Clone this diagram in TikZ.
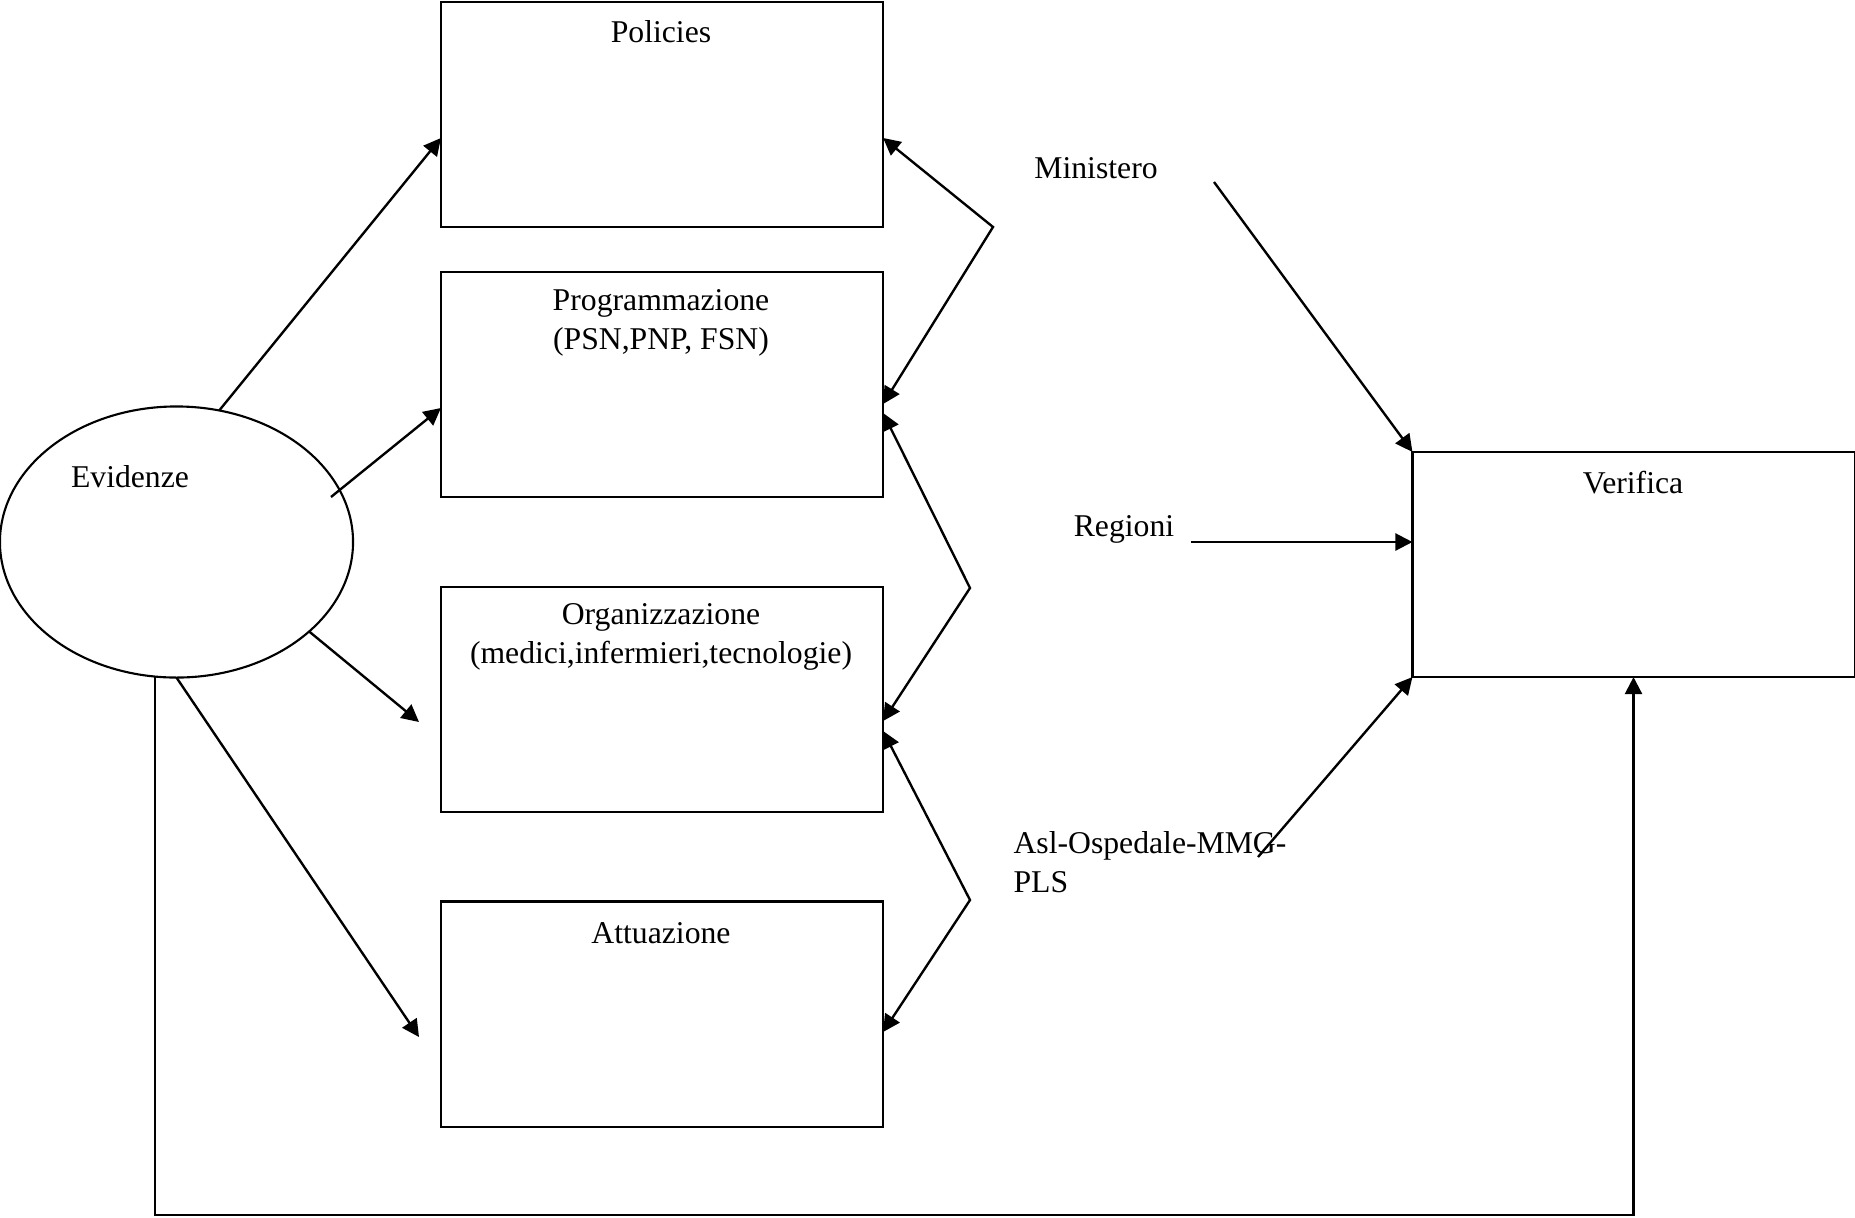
\documentclass[tikz,border=0pt]{standalone}
\usepackage{fontspec}
\setmainfont{Liberation Serif}
\usetikzlibrary{arrows.meta,shapes.geometric}
\tikzstyle{box} = [draw, line width=0.8pt, minimum width=5.883cm, minimum height=2.995cm, inner sep=0pt, outer sep=0pt]
\tikzstyle{lbl} = [inner sep=0pt, align=center]
\tikzstyle{b} = [draw, line width=0.9pt, black, -{Triangle[length=6.5pt,width=6.5pt]}]
\tikzstyle{bb} = [b, {Triangle[length=6.5pt,width=6.5pt]}-{Triangle[length=6.5pt,width=6.5pt]}]

\begin{document}
\begin{tikzpicture}[x=0.01331cm, y=-0.01331cm, font=\fontsize{12}{15}\selectfont]
  \useasboundingbox (0,0) rectangle (1855,1217);

  % Nodes
  \node[box] (pol)  at (662,114.5)   {};
  \node[box] (prog) at (662,384.5)   {};
  \node[box] (org)  at (662,699.5)   {};
  \node[box] (att)  at (662,1014)    {};
  \node[box] (ver)  at (1633.5,564.5) {};
  \node[draw, ellipse, line width=0.8pt, minimum width=4.698cm, minimum height=3.607cm, inner sep=0pt, outer sep=0pt] (ev) at (176.5,542) {};

  \node[lbl] (polt)  at (661,32)   {Policies};
  \node[lbl] (progt) at (661,323)  {Programmazione\\(PSN,PNP, FSN)};
  \node[lbl] (orgt)  at (661,637)  {Organizzazione\\(medici,infermieri,tecnologie)};
  \node[lbl] (attt)  at (661,933)  {Attuazione};
  \node[lbl] (vert)  at (1633,483) {Verifica};
  \node[lbl] (evt)   at (130,477)  {Evidenze};
  \node[lbl] (min)   at (1096,168) {Ministero};
  \node[lbl] (reg)   at (1124,529) {Regioni};
  \node[lbl, anchor=west, align=left] (asl) at (1013,862) {Asl-Ospedale-MMG-\\PLS};

  \coordinate (v1) at (993,227);
  \coordinate (v2) at (970,588);
  \coordinate (v3) at (970,900);
  \coordinate (e2) at (331,497);
  \coordinate (e3) at (419,722);
  \coordinate (e4) at (419,1037);
  \coordinate (m0) at (1214,182);
  \coordinate (r0) at (1191,542);
  \coordinate (a0) at (1258,857);

  % Arrows
  \draw[b] (ev.72) -- (pol.west |- 0,138);
  \draw[b] (e2) -- (prog.west |- 0,408);
  \draw[b] (ev.-34) -- (e3);
  \draw[b] (ev.-90) -- (e4);
  \draw[b] (ev.-99.5) -- (ev.-99.5 |- 0,1215) -| (ver.south);

  \draw[bb] (pol.east |- 0,138) -- (v1) -- (prog.east |- 0,404);
  \draw[bb] (prog.east |- 0,413) -- (v2) -- (org.east |- 0,721);
  \draw[bb] (org.east |- 0,731) -- (v3) -- (att.east |- 0,1032);

  \draw[b] (m0) -- (ver.north west);
  \draw[b] (r0) -- (ver.west |- 0,542);
  \draw[b] (a0) -- (ver.south west);
\end{tikzpicture}
\end{document}
